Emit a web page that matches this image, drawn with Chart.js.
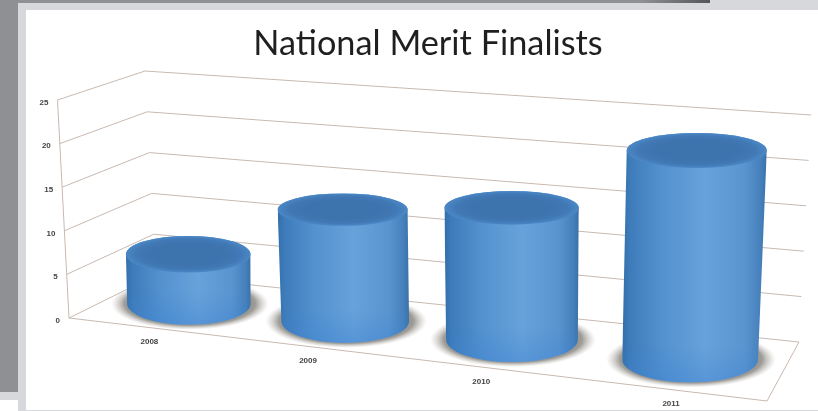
<!DOCTYPE html>
<html>
<head>
<meta charset="utf-8">
<title>National Merit Finalists</title>
<script src="https://cdn.jsdelivr.net/npm/chart.js@4"></script>
<style>
  html, body { margin: 0; padding: 0; background: #fff; }
  #page { position: relative; width: 818px; height: 411px; overflow: hidden; background: #fff; }
  .band { position: absolute; }
  #myChart { position: absolute; left: 0; top: 0; }
</style>
</head>
<body>
<div id="page">
  <div class="band" style="left:0;top:0;width:18px;height:392px;background:#8f9094"></div>
  <div class="band" style="left:0;top:392px;width:26px;height:8px;background:#d6d8db"></div>
  <div class="band" style="left:18px;top:0;width:692px;height:3px;background:linear-gradient(90deg,#8f9094 0,#8f9094 90%,#55565a 100%)"></div>
  <div class="band" style="left:18px;top:3px;width:800px;height:7px;background:#d6d8db"></div>
  <div class="band" style="left:710px;top:0;width:108px;height:3px;background:#d6d8db"></div>
  <div class="band" style="left:18px;top:3px;width:8px;height:408px;background:#d6d8db"></div>
  <div class="band" style="left:26px;top:410px;width:792px;height:1px;background:#d6d8db"></div>
  <canvas id="myChart" width="818" height="411"></canvas>
</div>
<script>
const categories = ['2008', '2009', '2010', '2011'];
const finalists = [5.8, 12.7, 14.6, 22.5];
const chartTitle = 'National Merit Finalists';

// corners of the 3d box as they appear in the picture
const floorQuad = [[69, 318], [767, 401], [799, 342], [156, 275]];
const topQuad = [[57.5, 100], [781, 156], [811, 115], [145, 71]];

const makeHomography = (q) => {
  const [[x0, y0], [x1, y1], [x2, y2], [x3, y3]] = q;
  const dx1 = x1 - x2, dx2 = x3 - x2, sx = x0 - x1 + x2 - x3;
  const dy1 = y1 - y2, dy2 = y3 - y2, sy = y0 - y1 + y2 - y3;
  const den = dx1 * dy2 - dx2 * dy1;
  const g = (sx * dy2 - dx2 * sy) / den;
  const h = (dx1 * sy - sx * dy1) / den;
  const a = x1 - x0 + g * x1, b = x3 - x0 + h * x3;
  const d = y1 - y0 + g * y1, e = y3 - y0 + h * y3;
  return (u, w) => {
    const n = g * u + h * w + 1;
    return [(a * u + b * w + x0) / n, (d * u + e * w + y0) / n];
  };
};

const floorAt = makeHomography(floorQuad);
const topAt = makeHomography(topQuad);

// u across, w into the page, t up the value axis (all 0..1)
const project = (u, w, t) => {
  const f = floorAt(u, w), c = topAt(u, w);
  return [f[0] + (c[0] - f[0]) * t, f[1] + (c[1] - f[1]) * t];
};

const drawBox = (chart) => {
  const ctx = chart.ctx, y = chart.scales.y, area = chart.chartArea;
  const frac = (v) => (area.bottom - y.getPixelForValue(v)) / (area.bottom - area.top);
  ctx.save();
  ctx.strokeStyle = '#c8b9b0';
  ctx.lineWidth = 1;
  y.ticks.forEach((tick) => {
    const t = frac(tick.value);
    const a = project(0, 0, t), b = project(0, 1, t), c = project(1, 1, t);
    ctx.beginPath();
    ctx.moveTo(a[0], a[1]);
    ctx.lineTo(b[0], b[1]);
    ctx.lineTo(c[0], c[1]);
    ctx.stroke();
    ctx.fillStyle = '#444';
    ctx.font = 'bold 8px "Liberation Sans"';
    ctx.textAlign = 'right';
    ctx.textBaseline = 'middle';
    ctx.fillText(tick.label, a[0] - 9, a[1] + 2.5);
  });
  const p0 = project(0, 0, 0), p1 = project(1, 0, 0), p2 = project(1, 1, 0), pt = project(0, 0, 1);
  ctx.beginPath();
  ctx.moveTo(pt[0], pt[1]);
  ctx.lineTo(p0[0], p0[1]);
  ctx.lineTo(p1[0], p1[1]);
  ctx.lineTo(p2[0], p2[1]);
  ctx.stroke();
  ctx.restore();
};

const drawLabels = (chart) => {
  const ctx = chart.ctx, x = chart.scales.x, area = chart.chartArea;
  ctx.save();
  ctx.fillStyle = '#444';
  ctx.font = 'bold 8px "Liberation Sans"';
  ctx.textAlign = 'center';
  ctx.textBaseline = 'middle';
  categories.forEach((label, i) => {
    const u = (x.getPixelForValue(i) - area.left) / (area.right - area.left);
    const p = project(u, 0, 0);
    ctx.fillText(label, p[0] + 6, p[1] + 15);
  });
  ctx.restore();
};

const drawCylinder = (chart, bar, value) => {
  const ctx = chart.ctx, area = chart.chartArea;
  const u0 = (bar.x - area.left) / (area.right - area.left);
  // the homography pulls the middle bars a bit too far left, ease that
  const u = u0 + 0.04 * u0 * (1 - u0);
  const t = (bar.base - bar.y) / (area.bottom - area.top);

  const base = project(u, 0.5, 0), top = project(u, 0.5, t);
  top[0] += 2 * (1 - u0);
  const rxB = (bar.width / 2) * (0.82 + 0.11 * u0);
  const rxT = rxB * (1 + 0.035 * t);
  const ryB = rxB * 0.34;
  const ryT = rxT * Math.max(0.25, 0.34 - 0.008 * value);

  // soft shadow on the floor
  ctx.save();
  ctx.translate(base[0] + 1, base[1]);
  const shR = rxB + 17;
  ctx.scale(1, (ryB + 5) / shR);
  const sh = ctx.createRadialGradient(0, 0, rxB * 0.8, 0, 0, shR);
  sh.addColorStop(0, 'rgba(120,118,112,0.95)');
  sh.addColorStop(0.55, 'rgba(135,132,126,0.8)');
  sh.addColorStop(1, 'rgba(190,185,178,0)');
  ctx.fillStyle = sh;
  ctx.beginPath();
  ctx.arc(0, 0, shR, 0, Math.PI * 2);
  ctx.fill();
  ctx.restore();

  // side wall
  ctx.save();
  ctx.beginPath();
  ctx.moveTo(top[0] - rxT, top[1]);
  ctx.lineTo(base[0] - rxB, base[1]);
  ctx.ellipse(base[0], base[1], rxB, ryB, 0, Math.PI, 0, true);
  ctx.lineTo(top[0] + rxT, top[1]);
  ctx.ellipse(top[0], top[1], rxT, ryT, 0, 0, Math.PI, true);
  ctx.closePath();
  ctx.clip();
  const left = Math.min(top[0] - rxT, base[0] - rxB), right = Math.max(top[0] + rxT, base[0] + rxB);
  const side = ctx.createLinearGradient(left, 0, right, 0);
  side.addColorStop(0, '#336ea9');
  side.addColorStop(0.05, '#3d7bba');
  side.addColorStop(0.28, '#5391cf');
  side.addColorStop(0.58, '#68a2da');
  side.addColorStop(0.85, '#5a94d0');
  side.addColorStop(0.96, '#4580bb');
  side.addColorStop(1, '#3a70a8');
  ctx.fillStyle = side;
  ctx.fillRect(left, top[1] - ryT, right - left, base[1] + ryB - top[1] + ryT);
  const shade = ctx.createLinearGradient(0, base[1] - ryB * 0.6, 0, base[1] + ryB);
  shade.addColorStop(0, 'rgba(60,130,210,0)');
  shade.addColorStop(1, 'rgba(60,130,210,0.4)');
  ctx.fillStyle = shade;
  ctx.fillRect(left, base[1] - ryB * 0.6, right - left, ryB * 1.6);
  ctx.restore();

  // lid, darker in the middle with a lighter rounded rim
  ctx.save();
  ctx.translate(top[0], top[1]);
  ctx.scale(1, ryT / rxT);
  const lid = ctx.createRadialGradient(0, 0, rxT * 0.6, 0, 0, rxT);
  lid.addColorStop(0, '#3e74ae');
  lid.addColorStop(0.6, '#4179b6');
  lid.addColorStop(1, '#4b88c6');
  ctx.fillStyle = lid;
  ctx.beginPath();
  ctx.arc(0, 0, rxT, 0, Math.PI * 2);
  ctx.fill();
  ctx.restore();
};

const cylinderPlugin = {
  id: 'cylinders',
  beforeDatasetsDraw(chart) {
    drawBox(chart);
  },
  afterDatasetsDraw(chart) {
    chart.getDatasetMeta(0).data.forEach((bar, i) => drawCylinder(chart, bar, finalists[i]));
    drawLabels(chart);
  }
};

const myChart = new Chart(document.getElementById('myChart'), {
  type: 'bar',
  data: {
    labels: categories,
    datasets: [{
      label: chartTitle,
      data: finalists,
      backgroundColor: 'transparent',
      barPercentage: 0.76,
      categoryPercentage: 1
    }]
  },
  options: {
    responsive: false,
    animation: false,
    layout: { padding: { left: 38 } },
    plugins: {
      legend: { display: false },
      tooltip: { enabled: false },
      title: {
        display: true,
        text: chartTitle,
        color: '#1f1f1f',
        font: { family: 'Lato', size: 34.3, weight: 'normal' },
        padding: { top: 23, bottom: 10 }
      }
    },
    scales: {
      x: { display: false },
      y: { display: false, min: 0, max: 25, ticks: { stepSize: 5 } }
    }
  },
  plugins: [cylinderPlugin]
});
</script>
</body>
</html>
